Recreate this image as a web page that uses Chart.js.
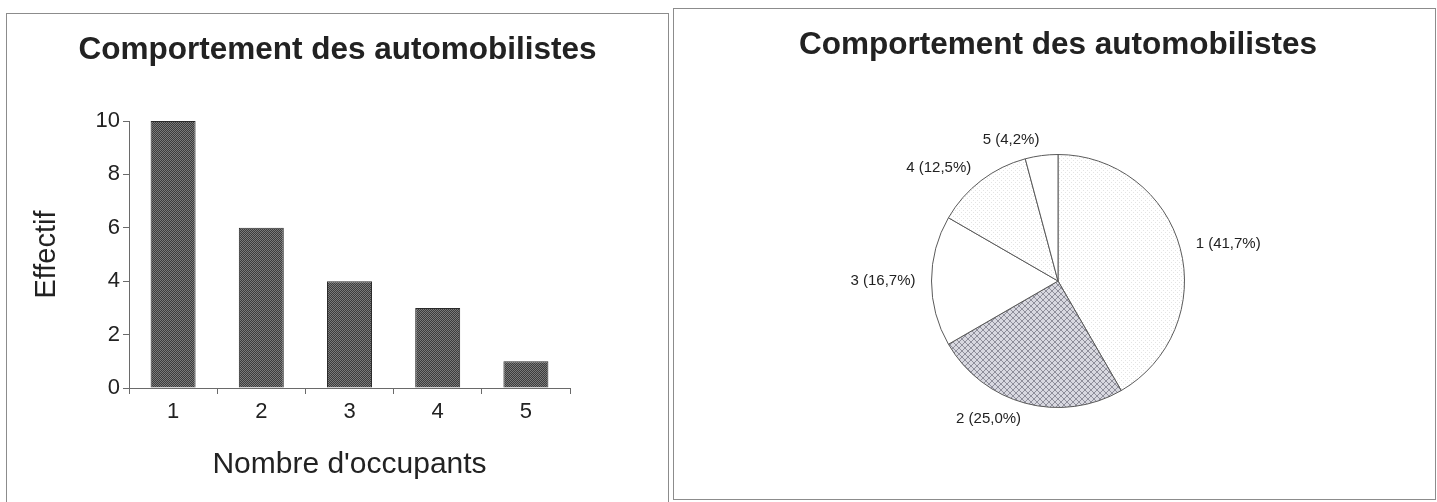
<!DOCTYPE html>
<html>
<head>
<meta charset="utf-8">
<script src="https://cdn.jsdelivr.net/npm/chart.js@4.4.1/dist/chart.umd.min.js"></script>
<style>
  html, body { margin: 0; padding: 0; background: #ffffff; width: 1437px; height: 502px; overflow: hidden; }
  .panel { position: absolute; border: 1px solid #8c8c8c; background: #fff; }
  #p1 { left: 6px; top: 13px; width: 661px; height: 492px; }
  #p2 { left: 673px; top: 8px; width: 761px; height: 490px; }
  canvas { display: block; }
</style>
</head>
<body>
<div class="panel" id="p1"><canvas id="bar" width="661" height="492"></canvas></div>
<div class="panel" id="p2"><canvas id="pie" width="761" height="490"></canvas></div>
<script>
// ---- data ----
const chartTitle = "Comportement des automobilistes";
const categories = ["1", "2", "3", "4", "5"];
const effectifs = [10, 6, 4, 3, 1];
const yTicks = [0, 2, 4, 6, 8, 10];
const xAxisTitle = "Nombre d'occupants";
const yAxisTitle = "Effectif";

const FONT = "'Liberation Sans', Arial, Helvetica, sans-serif";
Chart.defaults.font.family = FONT;
Chart.defaults.color = '#222';

function makePattern(size, bg, fg, pixels) {
  const c = document.createElement('canvas');
  c.width = size; c.height = size;
  const x = c.getContext('2d');
  x.fillStyle = bg; x.fillRect(0, 0, size, size);
  x.fillStyle = fg;
  pixels.forEach(p => x.fillRect(p[0], p[1], 1, 1));
  return x.createPattern(c, 'repeat');
}
const barPattern = makePattern(2, '#7a7a7a', '#3c3c3c', [[0,0],[1,1]]);
const hatchPix = [];
for (let i = 0; i < 6; i++) { hatchPix.push([i, i]); hatchPix.push([i, 5 - i]); }
const crossPattern = makePattern(6, '#d8d8e0', '#8e8e9a', hatchPix);
const dotPattern = makePattern(4, '#ffffff', '#e4e4e4', [[1,1],[3,3]]);

// ---- bar chart ----
new Chart(document.getElementById('bar'), {
  type: 'bar',
  data: {
    labels: categories,
    datasets: [{
      data: effectifs,
      backgroundColor: barPattern,
      borderColor: '#2a2a2a',
      borderWidth: 1,
      categoryPercentage: 1.0,
      barPercentage: 0.51
    }]
  },
  options: {
    responsive: false,
    animation: false,
    devicePixelRatio: 1,
    layout: { padding: 0 },
    plugins: {
      legend: { display: false },
      tooltip: { enabled: false },
      title: {
        display: true,
        text: chartTitle,
        color: '#222',
        font: { size: 31.5, weight: 'bold', family: FONT, lineHeight: 1.2 },
        padding: { top: 17.7, bottom: 51.5 }
      }
    },
    scales: {
      x: {
        grid: { display: true, drawOnChartArea: false, drawTicks: true, tickLength: 6, color: '#6a6a6a', offset: true },
        border: { display: true, color: '#6a6a6a', width: 1 },
        ticks: { font: { size: 22, family: FONT }, color: '#222', padding: 5 },
        title: {
          display: true, text: xAxisTitle, color: '#222',
          font: { size: 30, family: FONT, lineHeight: 1.2 },
          padding: { top: 0, bottom: 23 }
        },
        afterFit: s => { s.height = 118; }
      },
      y: {
        min: 0, max: 10,
        afterBuildTicks: s => { s.ticks = yTicks.map(v => ({ value: v })); },
        grid: { display: true, drawOnChartArea: false, drawTicks: true, tickLength: 6, color: '#6a6a6a' },
        border: { display: true, color: '#6a6a6a', width: 1 },
        ticks: { font: { size: 22, family: FONT }, color: '#222', padding: 3 },
        title: {
          display: true, text: yAxisTitle, color: '#222',
          font: { size: 29, family: FONT, lineHeight: 1.2 },
          padding: { top: 22.5, bottom: 0 }
        },
        afterFit: s => { s.width = 122; }
      },
      spacer: {
        position: 'right',
        display: true,
        grid: { display: false },
        border: { display: false },
        ticks: { display: false },
        afterFit: s => { s.width = 98; }
      }
    }
  }
});

// ---- pie chart ----
const pieLabelPlugin = {
  id: 'pieLabels',
  afterDatasetsDraw(chart) {
    const ctx = chart.ctx;
    const meta = chart.getDatasetMeta(0);
    const data = chart.data.datasets[0].data;
    const total = data.reduce((a, b) => a + b, 0);
    ctx.save();
    ctx.font = '15px ' + FONT;
    ctx.fillStyle = '#222';
    ctx.textBaseline = 'middle';
    meta.data.forEach((arc, i) => {
      const p = arc.getProps(['x', 'y', 'startAngle', 'endAngle', 'outerRadius'], true);
      const mid = (p.startAngle + p.endAngle) / 2;
      const r = p.outerRadius + 16;
      const lx = p.x + Math.cos(mid) * r;
      const ly = p.y + Math.sin(mid) * r;
      const pct = (data[i] / total * 100).toFixed(1).replace('.', ',');
      ctx.textAlign = Math.cos(mid) >= 0 ? 'left' : 'right';
      ctx.fillText(chart.data.labels[i] + ' (' + pct + '%)', lx, ly);
    });
    ctx.restore();
  }
};

new Chart(document.getElementById('pie'), {
  type: 'pie',
  data: {
    labels: categories,
    datasets: [{
      data: effectifs,
      backgroundColor: [dotPattern, crossPattern, '#ffffff', dotPattern, '#ffffff'],
      borderColor: '#5a5a5a',
      borderWidth: 1
    }]
  },
  options: {
    responsive: false,
    animation: false,
    devicePixelRatio: 1,
    layout: { padding: { left: 7, right: 0, top: 0, bottom: 91 } },
    plugins: {
      legend: { display: false },
      tooltip: { enabled: false },
      title: {
        display: true,
        text: chartTitle,
        color: '#222',
        font: { size: 31.5, weight: 'bold', family: FONT, lineHeight: 1.2 },
        padding: { top: 17.7, bottom: 89.5 }
      }
    }
  },
  plugins: [pieLabelPlugin]
});
</script>
</body>
</html>
